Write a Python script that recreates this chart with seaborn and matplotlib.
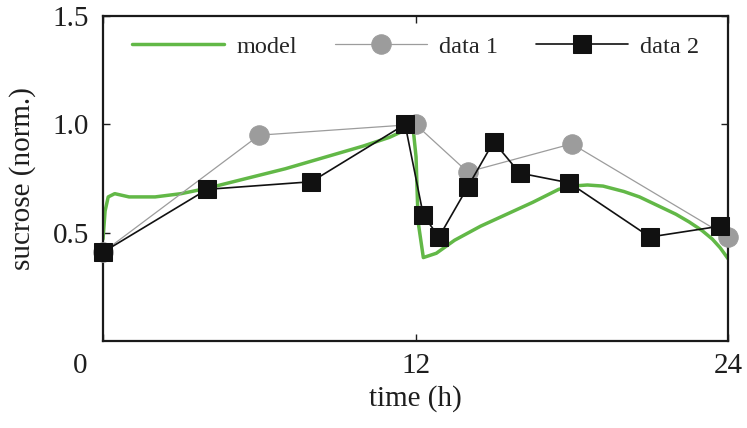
import numpy as np
import pandas as pd
import matplotlib
matplotlib.use("Agg")
import matplotlib.pyplot as plt
import matplotlib.transforms as mtransforms
import seaborn as sns

# Simulated sucrose level (model)
model_t = [0.0, 0.08, 0.2, 0.45, 1.0, 2.0, 3.0, 4.0, 5.0, 6.0, 7.0, 8.0, 9.0,
           10.0, 11.0, 11.9, 12.02, 12.1, 12.3, 12.8, 13.5, 14.5, 15.5, 16.5,
           17.0, 17.5, 18.0, 18.6, 19.2, 20.0, 20.6, 21.3, 22.0, 22.5, 23.0,
           23.4, 23.7, 24.0]
model_v = [0.47, 0.60, 0.665, 0.68, 0.665, 0.665, 0.68, 0.705, 0.735, 0.765,
           0.795, 0.83, 0.865, 0.90, 0.94, 0.99, 0.85, 0.55, 0.385, 0.405,
           0.465, 0.53, 0.585, 0.64, 0.67, 0.70, 0.715, 0.72, 0.715, 0.69,
           0.665, 0.625, 0.585, 0.55, 0.51, 0.47, 0.43, 0.38]

# Measured sucrose, experiment 1
data1_t = [0.0, 6.0, 12.0, 14.0, 18.0, 24.0]
data1_v = [0.41, 0.95, 1.0, 0.78, 0.91, 0.48]

# Measured sucrose, experiment 2
data2_t = [0.0, 4.0, 8.0, 11.6, 12.3, 12.9, 14.0, 15.0, 16.0, 17.9, 21.0, 23.7]
data2_v = [0.41, 0.70, 0.735, 1.0, 0.58, 0.48, 0.71, 0.92, 0.775, 0.73, 0.48, 0.53]

x_ticks = [0, 12, 24]
x_tick_labels = ["0", "12", "24"]
y_ticks = [0.5, 1.0, 1.5]
y_tick_labels = ["0.5", "1.0", "1.5"]

sns.set_style("ticks")
plt.rcParams["font.family"] = ["Liberation Serif", "DejaVu Serif"]

fig = plt.figure(figsize=(7.47, 4.28), dpi=100)
ax = fig.add_axes([0.1379, 0.2033, 0.9746 - 0.1379, 0.9626 - 0.2033])

green = "#62b847"
grey = "#9c9c9c"

sns.lineplot(x=model_t, y=model_v, ax=ax, sort=False, estimator=None,
             color=green, lw=2.5, label="model", zorder=2)
sns.lineplot(x=data1_t, y=data1_v, ax=ax, sort=False, estimator=None,
             color=grey, lw=0.9, marker="o", markersize=14,
             markeredgecolor=grey, markerfacecolor=grey, label="data 1",
             zorder=3, clip_on=False)
sns.lineplot(x=data2_t, y=data2_v, ax=ax, sort=False, estimator=None,
             color="#111111", lw=1.2, marker="s", markersize=13,
             markeredgecolor="#111111", markerfacecolor="#111111",
             label="data 2", zorder=4, clip_on=False)

ax.set_xlim(0, 24)
ax.set_ylim(0, 1.5)
ax.set_xticks(x_ticks)
ax.set_xticklabels(x_tick_labels)
ax.set_yticks(y_ticks)
ax.set_yticklabels(y_tick_labels)

ax.tick_params(axis="both", which="major", direction="in", length=5,
               width=1.0, labelsize=21, colors="#1e1e1e",
               top=True, right=True)
ax.tick_params(axis="x", pad=9)
ax.tick_params(axis="y", pad=10)

for side in ["left", "right", "top", "bottom"]:
    ax.spines[side].set_visible(True)
    ax.spines[side].set_linewidth(1.6)
    ax.spines[side].set_color("#1a1a1a")

ax.set_xlabel("time (h)", fontsize=21, color="#1e1e1e", labelpad=4)
ax.set_ylabel("sucrose (norm.)", fontsize=21, color="#1e1e1e", labelpad=12)

# pull the origin label out to the corner
lbl0 = ax.get_xticklabels()[0]
lbl0.set_transform(lbl0.get_transform() +
                   mtransforms.ScaledTranslation(-0.23, 0, fig.dpi_scale_trans))

ax.legend(loc="center", bbox_to_anchor=(0.5, 0.905), ncol=3, frameon=False,
          fontsize=17.5, handlelength=3.8, handletextpad=0.5,
          columnspacing=1.55, borderaxespad=0)

fig.savefig("out.png", dpi=100)
